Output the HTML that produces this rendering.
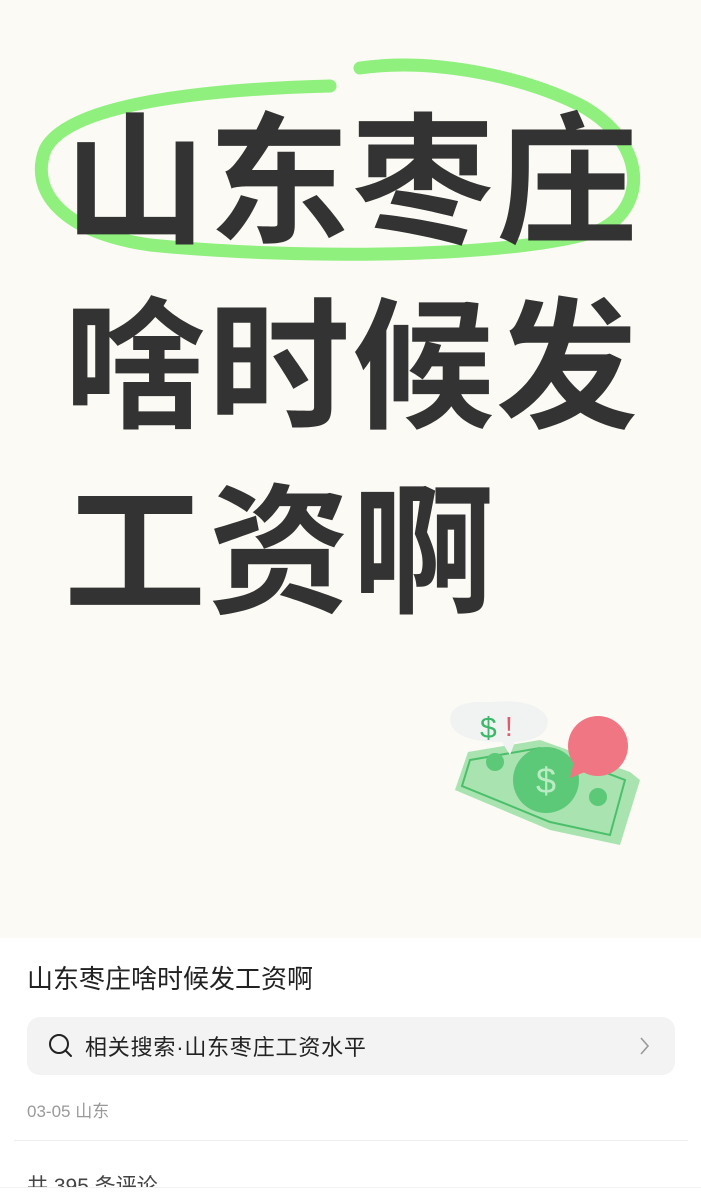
<!DOCTYPE html>
<html><head><meta charset="utf-8"><style>
html,body{margin:0;padding:0;width:701px;height:1200px;overflow:hidden;background:#fff;font-family:"Liberation Sans","Noto Sans CJK SC",sans-serif;}
.cover{position:absolute;left:0;top:0;width:701px;height:938px;background:#fbfaf4;}
.big{position:absolute;left:64px;font-family:"Noto Sans CJK SC",sans-serif;font-weight:700;font-size:142px;line-height:142px;color:#333;letter-spacing:2px;white-space:nowrap;}
.t{position:absolute;left:27px;top:959px;font-size:26px;color:#222;}
.search{position:absolute;left:27px;top:1017px;width:648px;height:58px;border-radius:13px;background:#f3f3f3;}
.st{position:absolute;left:58px;top:13px;font-size:22px;color:#222;letter-spacing:0.8px;}
.date{position:absolute;left:27px;top:1097px;font-size:17px;color:#999;}
.div{position:absolute;left:14px;top:1140px;width:674px;height:1px;background:#eee;}
.cmt{position:absolute;left:27px;top:1170px;font-size:21px;color:#444;}
.mask{position:absolute;left:0;top:1187px;width:701px;height:13px;background:#fff;border-top:1px solid #f2f2f2;}
</style></head><body>
<div class="cover">
<svg width="701" height="938" style="position:absolute;left:0;top:0">
<path d="M360 68 C430 58 520 75 580 105 C645 140 650 205 600 230 C520 258 300 260 150 245 C60 232 30 190 45 150 C65 108 180 90 330 86" fill="none" stroke="#8ff07d" stroke-width="13" stroke-linecap="round"/>
</svg>
<div class="big" style="top:99px">山东枣庄</div>
<div class="big" style="top:284px">啥时候发</div>
<div class="big" style="top:469px">工资啊</div>
<svg width="230" height="180" style="position:absolute;left:430px;top:680px">
<path d="M38 72 L110 60 L200 92 L210 100 L190 165 L120 150 L25 110 Z" fill="#a9e3b0"/>
<path d="M40 80 L110 68 L195 100 L180 155 L120 142 L32 106 Z" fill="none" stroke="#4bbf6a" stroke-width="2"/>
<circle cx="116" cy="100" r="33" fill="#5cc978"/>
<text x="116" y="113" text-anchor="middle" font-size="36" fill="#b9ecc2" font-family="Liberation Sans,sans-serif">$</text>
<circle cx="65" cy="82" r="9" fill="#5cc978"/><circle cx="168" cy="117" r="9" fill="#5cc978"/>
<path d="M20 40 Q20 20 60 22 Q110 18 118 40 Q118 60 85 62 L80 75 L72 62 Q22 62 20 40Z" fill="#f1f3f3"/>
<text x="50" y="58" font-size="30" fill="#3db86a" font-family="Liberation Sans,sans-serif">$</text>
<text x="75" y="56" font-size="28" fill="#e05a6b" font-family="Liberation Sans,sans-serif">!</text>
<circle cx="168" cy="66" r="30" fill="#f17684"/><path d="M145 78 L140 98 L160 90Z" fill="#f17684"/>
</svg>
</div>
<div class="t">山东枣庄啥时候发工资啊</div>
<div class="search">
<svg width="26" height="26" style="position:absolute;left:21px;top:16px"><circle cx="11" cy="11" r="9" fill="none" stroke="#222" stroke-width="2"/><line x1="17.5" y1="17.5" x2="23" y2="23" stroke="#222" stroke-width="2" stroke-linecap="round"/></svg>
<div class="st">相关搜索·山东枣庄工资水平</div>
<svg width="12" height="20" style="position:absolute;left:612px;top:19px"><path d="M2 2 L9 10 L2 18" fill="none" stroke="#999" stroke-width="1.6"/></svg>
</div>
<div class="date">03-05 山东</div>
<div class="div"></div>
<div class="cmt">共 395 条评论</div>
<div class="mask"></div>
</body></html>
